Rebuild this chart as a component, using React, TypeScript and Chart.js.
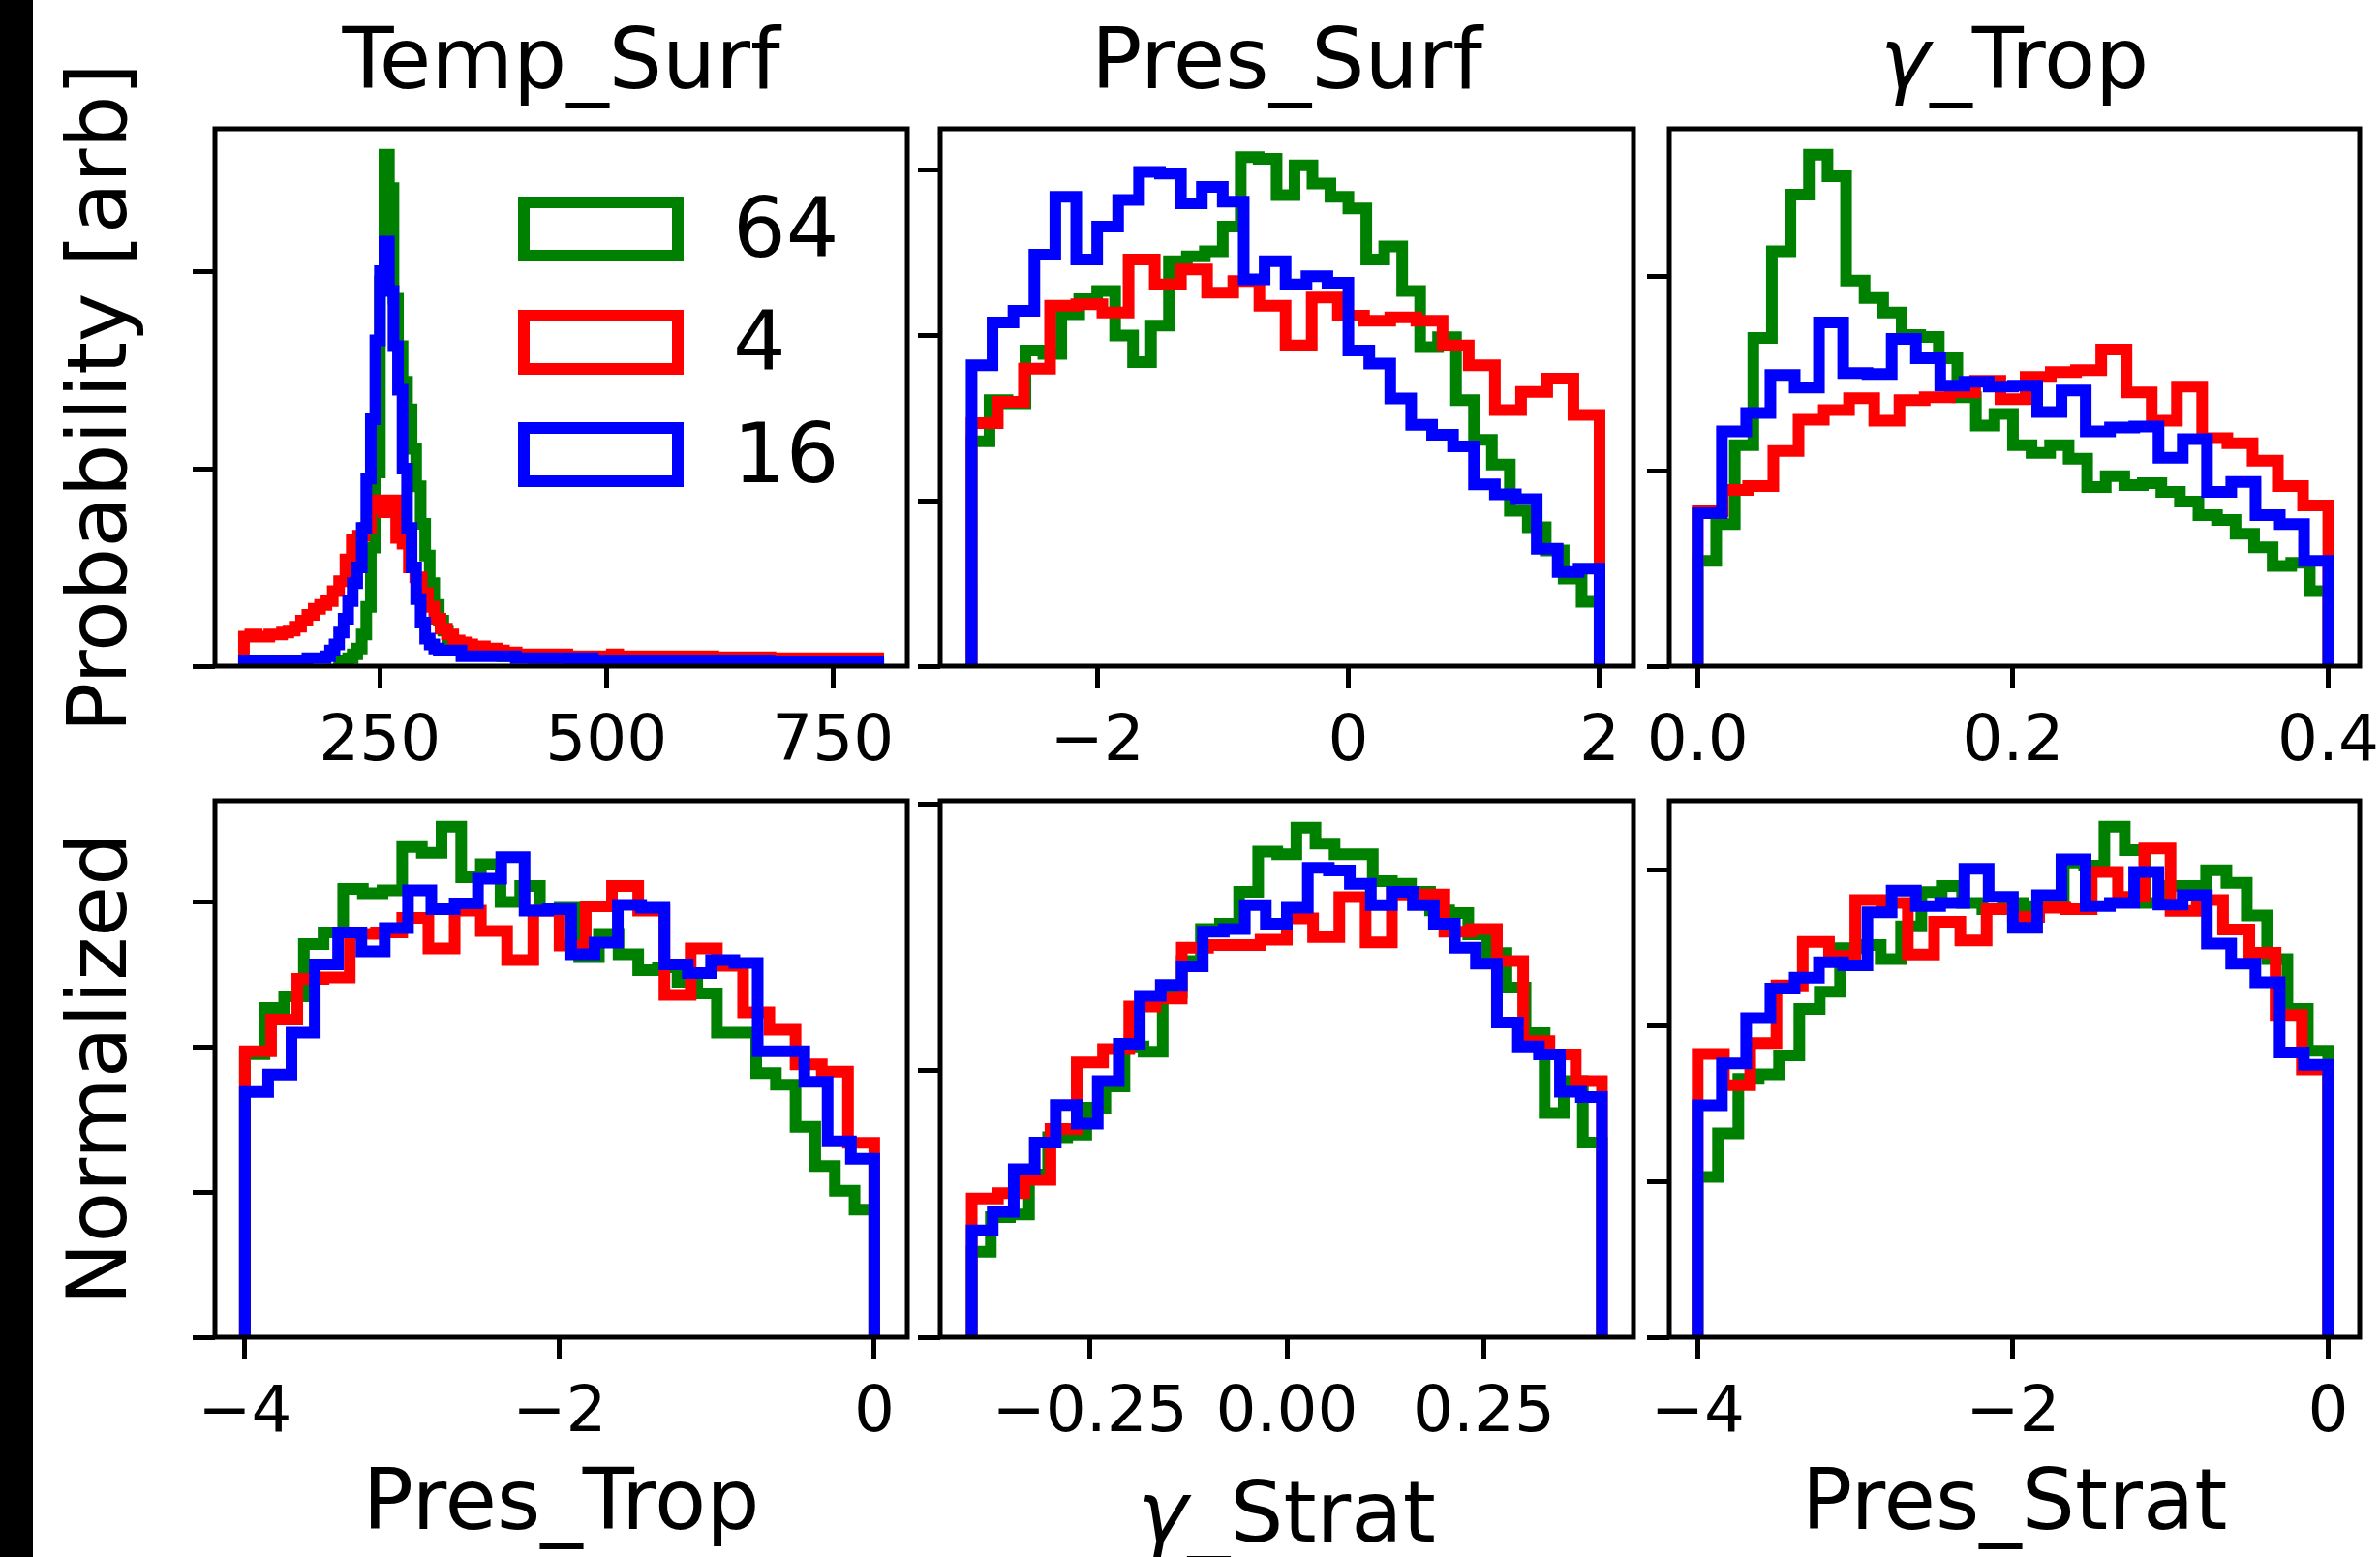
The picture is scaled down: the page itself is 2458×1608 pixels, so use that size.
import React, { useEffect, useRef } from "react";
import { Chart, registerables } from "chart.js";

Chart.register(...registerables);

const FONT = "'DejaVu Sans', 'Liberation Sans', sans-serif";
Chart.defaults.font.family = FONT;
Chart.defaults.color = "#000";

const GREEN = "#008000";
const RED = "#ff0000";
const BLUE = "#0000ff";

// ---------------- data ----------------
const seriesNames = ["64", "4", "16"]; // green, red, blue

// Temp_Surf  (ranges: green, red, blue)
const tempSurfRanges = [[205, 800], [100, 800], [100, 800]];
const tempSurfGreen = [
  0.02, 0.03, 0.04, 0.06, 0.09, 0.16, 0.30, 0.60, 0.98, 1.95,
  2.59, 2.42, 1.86, 1.62, 1.44, 1.30, 1.10, 0.91, 0.72, 0.56,
  0.42, 0.31, 0.23, 0.18, 0.13, 0.10, 0.09, 0.08, 0.07, 0.07,
  0.07, 0.06, 0.07, 0.06, 0.06, 0.06, 0.05, 0.06, 0.05, 0.05,
  0.05, 0.05, 0.05, 0.04, 0.05, 0.05, 0.04, 0.05, 0.04, 0.04,
  0.04, 0.04, 0.04, 0.03, 0.04, 0.04, 0.04, 0.03, 0.04, 0.04,
  0.03, 0.04, 0.03, 0.03, 0.04, 0.03, 0.03, 0.03, 0.03, 0.03,
  0.03, 0.03, 0.03, 0.02, 0.03, 0.03, 0.03, 0.02, 0.03, 0.03,
  0.02, 0.03, 0.02, 0.03, 0.02, 0.02, 0.03, 0.02, 0.02, 0.02,
  0.02, 0.02, 0.02, 0.02, 0.02, 0.02, 0.02, 0.01, 0.02, 0.02,
  0.02, 0.02, 0.01, 0.02, 0.02, 0.01, 0.02, 0.02, 0.01, 0.02,
  0.01, 0.02, 0.01, 0.01, 0.02, 0.01, 0.01, 0.01, 0.01,
];
const tempSurfRed = [
  0.15, 0.16, 0.15, 0.15, 0.16, 0.16, 0.17, 0.18, 0.20, 0.23,
  0.26, 0.29, 0.31, 0.33, 0.38, 0.43, 0.54, 0.64, 0.66, 0.70,
  0.80, 0.84, 0.78, 0.84, 0.65, 0.62, 0.50, 0.45, 0.37, 0.30,
  0.24, 0.19, 0.16, 0.13, 0.12, 0.11, 0.10, 0.10, 0.09, 0.09,
  0.08, 0.07, 0.07, 0.06, 0.06, 0.06, 0.06, 0.06, 0.06, 0.06,
  0.06, 0.05, 0.05, 0.04, 0.05, 0.04, 0.05, 0.05, 0.06, 0.05,
  0.05, 0.05, 0.05, 0.05, 0.05, 0.05, 0.05, 0.05, 0.05, 0.05,
  0.05, 0.05, 0.05, 0.05, 0.045, 0.045, 0.045, 0.045, 0.045, 0.045,
  0.045, 0.045, 0.045, 0.04, 0.04, 0.04, 0.04, 0.04, 0.04, 0.04,
  0.04, 0.04, 0.04, 0.04, 0.04, 0.04, 0.04, 0.04, 0.04, 0.04,
];
const tempSurfBlue = [
  0.03, 0.03, 0.03, 0.03, 0.03, 0.03, 0.03, 0.03, 0.03, 0.03,
  0.03, 0.03, 0.03, 0.03, 0.04, 0.04, 0.04, 0.04, 0.05, 0.08,
  0.11, 0.17, 0.24, 0.33, 0.42, 0.50, 0.70, 0.95, 1.25, 1.65,
  2.00, 2.15, 1.90, 1.62, 1.40, 1.00, 0.70, 0.50, 0.34, 0.22,
  0.14, 0.11, 0.09, 0.08, 0.08, 0.08, 0.08, 0.08, 0.05, 0.05,
  0.05, 0.05, 0.05, 0.05, 0.05, 0.05, 0.05, 0.05, 0.05, 0.05,
  0.04, 0.04, 0.04, 0.04, 0.04, 0.04, 0.04, 0.04, 0.04, 0.04,
  0.04, 0.04, 0.03, 0.04, 0.04, 0.03, 0.04, 0.03, 0.03, 0.03,
  0.03, 0.03, 0.03, 0.03, 0.03, 0.03, 0.03, 0.03, 0.03, 0.03,
  0.03, 0.03, 0.03, 0.03, 0.03, 0.03, 0.03, 0.03, 0.03, 0.03,
  0.03, 0.03, 0.03, 0.03, 0.03, 0.03, 0.03, 0.03, 0.03, 0.03,
  0.02, 0.02, 0.03, 0.02, 0.02, 0.03, 0.02, 0.02, 0.02, 0.02,
  0.02, 0.02, 0.02, 0.02, 0.02, 0.02, 0.02, 0.02, 0.02, 0.02,
  0.02, 0.02, 0.02, 0.02, 0.02, 0.02, 0.02, 0.02, 0.02, 0.02,
];
const tempSurfXTicks = [250, 500, 750];
const tempSurfXLabels = ["250", "500", "750"];
const tempSurfXLim = [68, 832];
const tempSurfYLim = [0, 2.7206];
const tempSurfYTicks = [0, 1, 2];

// Pres_Surf
const presSurfRanges = [[-3, 2], [-3, 2], [-3, 2]];
const presSurfGreen = [
  1.36, 1.61, 1.59, 1.91, 1.89, 2.13, 2.22, 2.27, 2.00, 1.84,
  2.06, 2.45, 2.48, 2.51, 2.66, 3.08, 3.07, 2.85, 3.03, 2.92,
  2.84, 2.77, 2.46, 2.54, 2.27, 1.93, 1.99, 1.61, 1.37, 1.22,
  0.94, 0.84, 0.70, 0.53, 0.39,
];
const presSurfRed = [
  1.47, 1.60, 1.80, 2.18, 2.19, 2.14, 2.46, 2.31, 2.40, 2.26,
  2.33, 2.18, 1.94, 2.23, 2.12, 2.09, 2.11, 2.09, 1.94, 1.82,
  1.55, 1.66, 1.74, 1.52,
];
const presSurfBlue = [
  1.82, 2.08, 2.15, 2.49, 2.84, 2.46, 2.66, 2.82, 2.99, 2.98,
  2.80, 2.90, 2.81, 2.34, 2.45, 2.31, 2.36, 2.32, 1.91, 1.83,
  1.62, 1.46, 1.40, 1.33, 1.10, 1.04, 1.01, 0.71, 0.57, 0.59,
];
const presSurfXTicks = [-2, 0, 2];
const presSurfXLabels = ["\u22122", "0", "2"];
const presSurfXLim = [-3.25, 2.27];
const presSurfYLim = [0, 3.2513];
const presSurfYTicks = [0, 1, 2, 3];

// gamma_Trop
const gammaTropRanges = [[0, 0.4], [0, 0.4], [0, 0.4]];
const gammaTropGreen = [
  1.08, 1.46, 2.27, 3.37, 4.26, 4.84, 5.25, 5.03, 3.96, 3.78,
  3.63, 3.40, 3.38, 3.16, 2.76, 2.47, 2.59, 2.27, 2.19, 2.27,
  2.13, 1.84, 1.95, 1.86, 1.88, 1.79, 1.69, 1.55, 1.50, 1.36,
  1.22, 1.03, 1.06, 0.77,
];
const gammaTropRed = [
  1.59, 1.81, 1.85, 2.21, 2.53, 2.63, 2.75, 2.52, 2.73, 2.76,
  2.81, 2.93, 2.74, 2.97, 3.02, 3.04, 3.25, 2.81, 2.52, 2.87,
  2.34, 2.29, 2.11, 1.85, 1.65,
];
const gammaTropBlue = [
  1.57, 2.41, 2.60, 2.99, 2.86, 3.53, 3.01, 3.00, 3.36, 3.16,
  2.88, 2.92, 2.87, 2.88, 2.61, 2.83, 2.41, 2.45, 2.46, 2.14,
  2.33, 1.79, 1.89, 1.55, 1.46, 1.08,
];
const gammaTropXTicks = [0, 0.2, 0.4];
const gammaTropXLabels = ["0.0", "0.2", "0.4"];
const gammaTropXLim = [-0.018, 0.4199];
const gammaTropYLim = [0, 5.517];
const gammaTropYTicks = [0, 2, 4];

// Pres_Trop
const presTropRanges = [[-4, 0], [-4, 0], [-4, 0]];
const presTropGreen = [
  1.95, 2.27, 2.35, 2.71, 2.79, 3.09, 3.06, 3.08, 3.38, 3.34,
  3.52, 3.17, 3.26, 3.00, 3.11, 2.95, 2.96, 2.62, 2.78, 2.64,
  2.53, 2.55, 2.45, 2.37, 2.10, 2.10, 1.82, 1.74, 1.45, 1.18,
  1.01, 0.88,
];
const presTropRed = [
  1.97, 2.19, 2.47, 2.48, 2.78, 2.79, 2.89, 2.68, 2.94, 2.80,
  2.60, 2.94, 2.70, 2.97, 3.11, 2.94, 2.36, 2.68, 2.56, 2.24,
  2.12, 1.88, 1.83, 1.34,
];
const presTropBlue = [
  1.69, 1.81, 2.10, 2.57, 2.79, 2.66, 2.82, 3.08, 2.95, 2.99,
  3.16, 3.31, 2.94, 2.95, 2.64, 2.72, 2.98, 2.96, 2.57, 2.51,
  2.60, 2.58, 1.97, 1.97, 1.76, 1.35, 1.23,
];
const presTropXTicks = [-4, -2, 0];
const presTropXLabels = ["\u22124", "\u22122", "0"];
const presTropXLim = [-4.19, 0.21];
const presTropYLim = [0, 3.698];
const presTropYTicks = [0, 1, 2, 3];

// gamma_Strat
const gammaStratRanges = [[-0.4, 0.4], [-0.4, 0.4], [-0.4, 0.4]];
const gammaStratGreen = [
  0.32, 0.45, 0.46, 0.61, 0.75, 0.76, 0.86, 0.94, 1.09, 1.07,
  1.29, 1.41, 1.53, 1.55, 1.67, 1.82, 1.81, 1.91, 1.85, 1.81,
  1.81, 1.71, 1.70, 1.67, 1.60, 1.59, 1.51, 1.44, 1.31, 1.14,
  0.84, 0.96, 0.73,
];
const gammaStratRed = [
  0.52, 0.54, 0.59, 0.78, 1.03, 1.08, 1.24, 1.27, 1.46, 1.47,
  1.47, 1.49, 1.57, 1.50, 1.65, 1.48, 1.66, 1.66, 1.52, 1.53,
  1.41, 1.11, 1.06, 0.96,
];
const gammaStratBlue = [
  0.40, 0.47, 0.63, 0.73, 0.87, 0.80, 0.96, 1.10, 1.28, 1.32,
  1.39, 1.52, 1.53, 1.62, 1.55, 1.61, 1.76, 1.75, 1.70, 1.62,
  1.67, 1.62, 1.55, 1.46, 1.40, 1.18, 1.09, 1.06, 0.92, 0.90,
];
const gammaStratXTicks = [-0.25, 0, 0.25];
const gammaStratXLabels = ["\u22120.25", "0.00", "0.25"];
const gammaStratXLim = [-0.44, 0.44];
const gammaStratYLim = [0, 2.011];
const gammaStratYTicks = [0, 1, 2];

// Pres_Strat
const presStratRanges = [[-4, 0], [-4, 0], [-4, 0]];
const presStratGreen = [
  1.03, 1.31, 1.66, 1.69, 1.81, 2.11, 2.22, 2.50, 2.52, 2.43,
  2.64, 2.86, 2.90, 2.79, 2.75, 2.79, 2.77, 2.78, 3.05, 3.03,
  3.28, 3.13, 2.79, 2.90, 2.90, 3.00, 2.92, 2.71, 2.43, 2.11,
  1.84,
];
const presStratRed = [
  1.82, 1.62, 1.89, 2.26, 2.54, 2.45, 2.81, 2.79, 2.46, 2.67,
  2.55, 2.75, 2.70, 2.76, 2.75, 2.99, 2.83, 3.14, 2.74, 2.81,
  2.62, 2.47, 2.07, 1.72,
];
const presStratBlue = [
  1.49, 1.76, 2.05, 2.24, 2.31, 2.41, 2.39, 2.73, 2.87, 2.77,
  2.79, 3.01, 2.83, 2.63, 2.84, 3.07, 2.77, 2.79, 2.99, 2.78,
  2.84, 2.53, 2.40, 2.28, 1.83, 1.75,
];
const presStratXTicks = [-4, -2, 0];
const presStratXLabels = ["\u22124", "\u22122", "0"];
const presStratXLim = [-4.18, 0.2];
const presStratYLim = [0, 3.447];
const presStratYTicks = [0, 1, 2, 3];

// ---------------- panel specs (built from the arrays above) ----------------
type Spec = {
  ranges: number[][];
  green: number[];
  red: number[];
  blue: number[];
  xTicks: number[];
  xLabels: string[];
  xLim: number[];
  yLim: number[];
  yTicks: number[];
};

const SPECS: Spec[] = [
  { ranges: tempSurfRanges, green: tempSurfGreen, red: tempSurfRed, blue: tempSurfBlue, xTicks: tempSurfXTicks, xLabels: tempSurfXLabels, xLim: tempSurfXLim, yLim: tempSurfYLim, yTicks: tempSurfYTicks },
  { ranges: presSurfRanges, green: presSurfGreen, red: presSurfRed, blue: presSurfBlue, xTicks: presSurfXTicks, xLabels: presSurfXLabels, xLim: presSurfXLim, yLim: presSurfYLim, yTicks: presSurfYTicks },
  { ranges: gammaTropRanges, green: gammaTropGreen, red: gammaTropRed, blue: gammaTropBlue, xTicks: gammaTropXTicks, xLabels: gammaTropXLabels, xLim: gammaTropXLim, yLim: gammaTropYLim, yTicks: gammaTropYTicks },
  { ranges: presTropRanges, green: presTropGreen, red: presTropRed, blue: presTropBlue, xTicks: presTropXTicks, xLabels: presTropXLabels, xLim: presTropXLim, yLim: presTropYLim, yTicks: presTropYTicks },
  { ranges: gammaStratRanges, green: gammaStratGreen, red: gammaStratRed, blue: gammaStratBlue, xTicks: gammaStratXTicks, xLabels: gammaStratXLabels, xLim: gammaStratXLim, yLim: gammaStratYLim, yTicks: gammaStratYTicks },
  { ranges: presStratRanges, green: presStratGreen, red: presStratRed, blue: presStratBlue, xTicks: presStratXTicks, xLabels: presStratXLabels, xLim: presStratXLim, yLim: presStratYLim, yTicks: presStratYTicks },
];

const topTitles = ["Temp_Surf", "Pres_Surf", "\u03b3_Trop"];
const bottomTitles = ["Pres_Trop", "\u03b3_Strat", "Pres_Strat"];
const sideTitles = ["Probability [arb]", "Normalized"];

// ---------------- layout (pixels) ----------------
const BOXES = [
  { left: 222, top: 133, width: 715, height: 555 },
  { left: 971, top: 133, width: 716, height: 555 },
  { left: 1724, top: 133, width: 713, height: 555 },
  { left: 222, top: 827, width: 715, height: 554 },
  { left: 971, top: 827, width: 716, height: 554 },
  { left: 1724, top: 827, width: 713, height: 554 },
];
const PAD_L = 60;
const PAD_T = 20;
const PAD_R = 60;
const PAD_B = 130;
const LINE_W = 12;
const TITLE_FONT = 87;
const SIDE_FONT = 86;
const LEGEND_FONT = 86;
const TICK_FONT = 66;
const baseOff = (f: number) => 0.846 * f; // baseline offset inside a line box of height f

function outline(range: number[], counts: number[]) {
  const lo = range[0];
  const hi = range[1];
  const w = (hi - lo) / counts.length;
  const pts: { x: number; y: number }[] = [{ x: lo, y: 0 }];
  counts.forEach((c, i) => {
    pts.push({ x: lo + i * w, y: c });
    pts.push({ x: lo + (i + 1) * w, y: c });
  });
  pts.push({ x: hi, y: 0 });
  return pts;
}

const framePlugin = {
  id: "axesFrame",
  afterDatasetsDraw(chart: any) {
    const { ctx, chartArea: a } = chart;
    ctx.save();
    ctx.lineWidth = 5;
    ctx.strokeStyle = "#000";
    ctx.strokeRect(a.left, a.top, a.right - a.left, a.bottom - a.top);
    ctx.restore();
  },
};

function Panel({ spec, box }: { spec: Spec; box: { left: number; top: number; width: number; height: number } }) {
  const ref = useRef<HTMLCanvasElement>(null);
  const cw = PAD_L + box.width + PAD_R;
  const ch = PAD_T + box.height + PAD_B;
  useEffect(() => {
    const mk = (range: number[], counts: number[], color: string) => ({
      data: outline(range, counts),
      borderColor: color,
      backgroundColor: color,
      borderWidth: LINE_W,
      pointRadius: 0,
      fill: false,
      tension: 0,
      borderJoinStyle: "miter",
      borderCapStyle: "butt",
      clip: 0,
    });
    const chart = new Chart(ref.current as HTMLCanvasElement, {
      type: "line",
      data: {
        datasets: [
          mk(spec.ranges[2], spec.blue, BLUE),
          mk(spec.ranges[1], spec.red, RED),
          mk(spec.ranges[0], spec.green, GREEN),
        ] as any,
      },
      options: {
        responsive: false,
        animation: false,
        events: [],
        layout: { padding: { left: 0, top: PAD_T, right: PAD_R, bottom: 0 } },
        plugins: { legend: { display: false }, tooltip: { enabled: false }, title: { display: false } },
        scales: {
          x: {
            type: "linear",
            min: spec.xLim[0],
            max: spec.xLim[1],
            afterBuildTicks: (s: any) => {
              s.ticks = spec.xTicks.map((v) => ({ value: v }));
            },
            afterFit: (s: any) => {
              s.height = PAD_B;
            },
            ticks: {
              callback: (_v: any, i: number) => spec.xLabels[i],
              font: { size: TICK_FONT, family: FONT },
              color: "#000",
              padding: 17,
              maxRotation: 0,
              autoSkip: false,
            },
            grid: { drawOnChartArea: false, drawTicks: true, tickLength: 23, tickWidth: 5, tickColor: "#000" },
            border: { display: false },
          },
          y: {
            type: "linear",
            min: spec.yLim[0],
            max: spec.yLim[1],
            afterBuildTicks: (s: any) => {
              s.ticks = spec.yTicks.map((v) => ({ value: v }));
            },
            afterFit: (s: any) => {
              s.width = PAD_L;
            },
            ticks: { display: false },
            grid: { drawOnChartArea: false, drawTicks: true, tickLength: 23, tickWidth: 5, tickColor: "#000" },
            border: { display: false },
          },
        },
      } as any,
      plugins: [framePlugin],
    });
    return () => chart.destroy();
  }, []);
  return (
    <canvas
      ref={ref}
      width={cw}
      height={ch}
      style={{ position: "absolute", left: box.left - PAD_L, top: box.top - PAD_T, width: cw, height: ch }}
    />
  );
}

function Label({ text }: { text: string }) {
  if (text.startsWith("\u03b3")) {
    return (
      <>
        <span style={{ fontStyle: "italic" }}>{"\u03b3"}</span>
        {text.slice(1)}
      </>
    );
  }
  return <>{text}</>;
}

const textStyle = (f: number): React.CSSProperties => ({
  position: "absolute",
  fontFamily: FONT,
  fontSize: f,
  lineHeight: `${f}px`,
  whiteSpace: "nowrap",
  color: "#000",
});

export default function App() {
  const colCenters = [0, 1, 2].map((i) => BOXES[i].left + BOXES[i].width / 2);
  const titleBaseline = 92;
  const xLabelBaselines = [1580, 1593, 1580];
  const legendColors = [GREEN, RED, BLUE];
  const legendTops = [203, 320, 436];
  return (
    <div
      style={{
        position: "absolute",
        left: 0,
        top: 0,
        width: 2458,
        height: 1608,
        background: "#fff",
        overflow: "hidden",
        fontFamily: FONT,
      }}
    >
      <div style={{ position: "absolute", left: 0, top: 0, width: 34, height: 1608, background: "#000" }} />
      {SPECS.map((s, i) => (
        <Panel key={i} spec={s} box={BOXES[i]} />
      ))}
      {topTitles.map((t, i) => (
        <div
          key={"t" + i}
          style={{ ...textStyle(TITLE_FONT), left: colCenters[i], top: titleBaseline - baseOff(TITLE_FONT), transform: "translateX(-50%)" }}
        >
          <Label text={t} />
        </div>
      ))}
      {bottomTitles.map((t, i) => (
        <div
          key={"b" + i}
          style={{ ...textStyle(TITLE_FONT), left: colCenters[i], top: xLabelBaselines[i] - baseOff(TITLE_FONT), transform: "translateX(-50%)" }}
        >
          <Label text={t} />
        </div>
      ))}
      {sideTitles.map((t, i) => {
        const b = BOXES[i * 3];
        return (
          <div
            key={"s" + i}
            style={{ ...textStyle(SIDE_FONT), left: 100, top: b.top + b.height / 2, transform: "translate(-50%, -50%) rotate(-90deg)" }}
          >
            {t}
          </div>
        );
      })}
      {seriesNames.map((n, i) => (
        <React.Fragment key={"l" + i}>
          <div
            style={{
              position: "absolute",
              left: 535,
              top: legendTops[i],
              width: 171,
              height: 67,
              boxSizing: "border-box",
              border: `${LINE_W}px solid ${legendColors[i]}`,
            }}
          />
          <div style={{ ...textStyle(LEGEND_FONT), left: 757, top: legendTops[i] + 62 - baseOff(LEGEND_FONT) }}>{n}</div>
        </React.Fragment>
      ))}
    </div>
  );
}
